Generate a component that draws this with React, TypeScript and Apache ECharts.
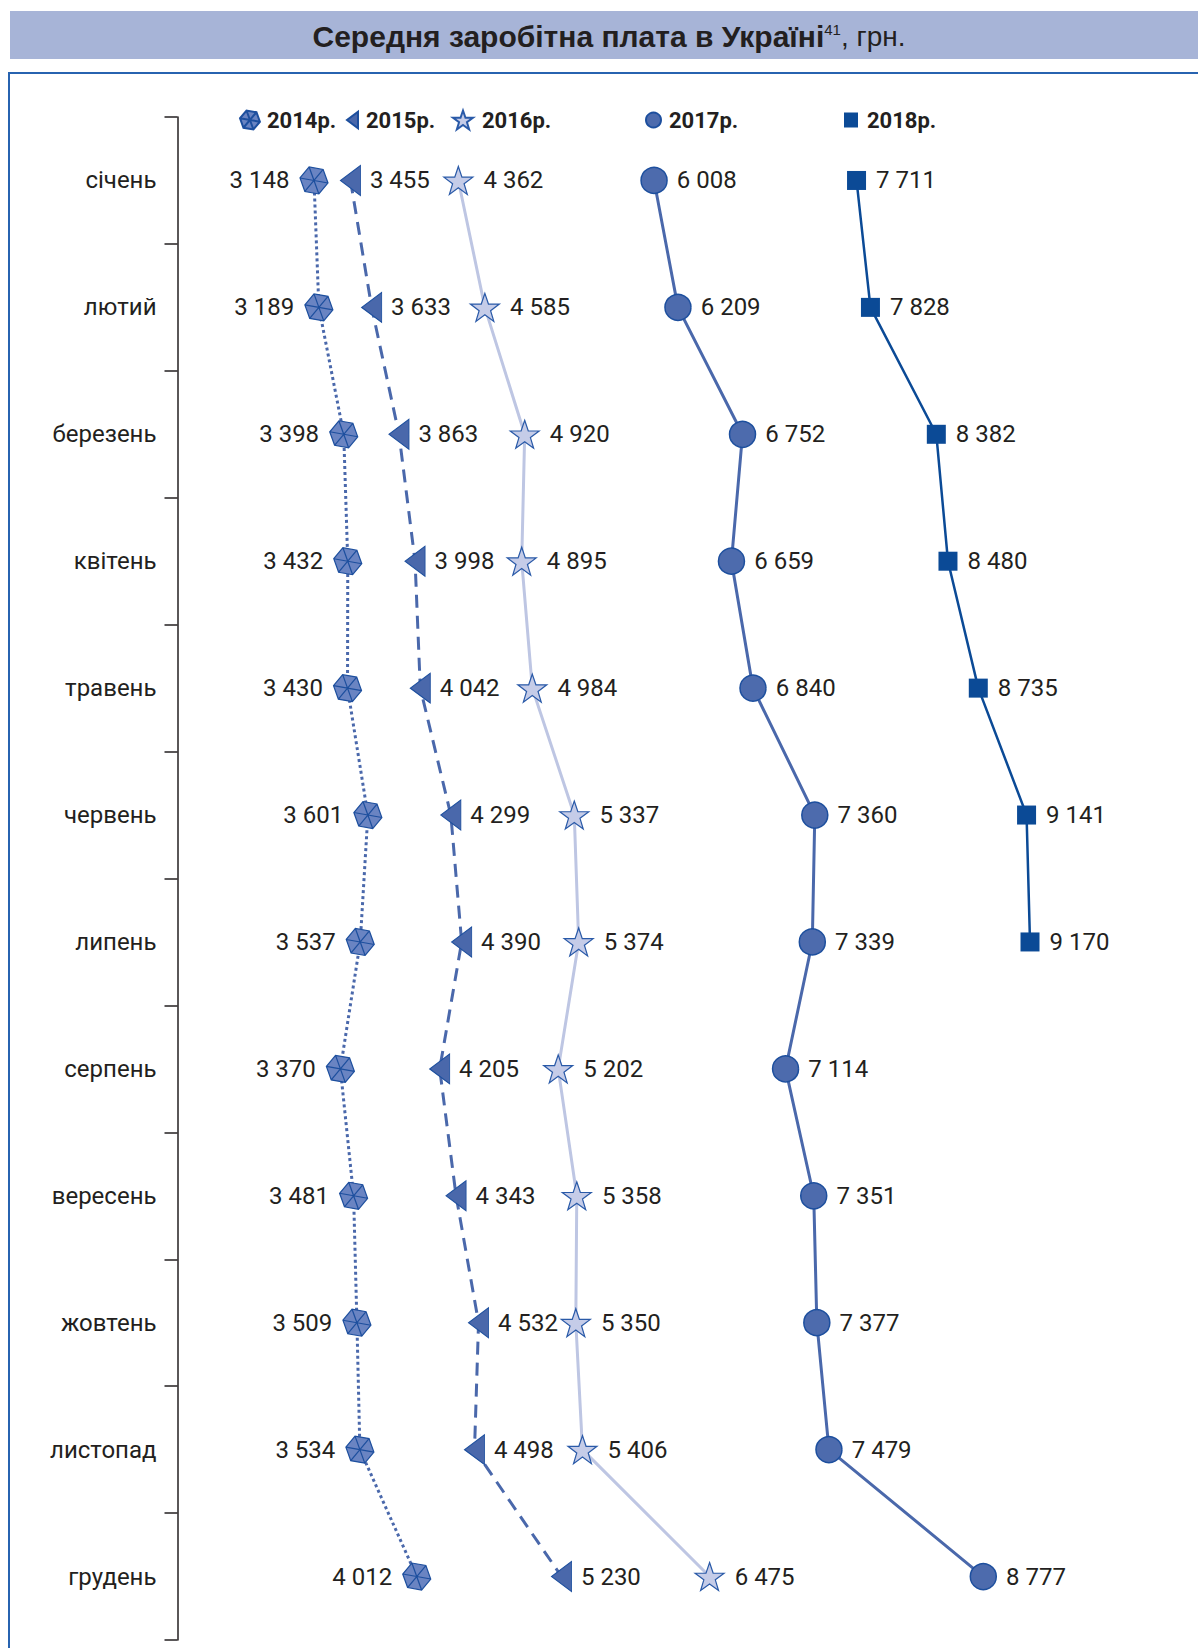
import React, { useEffect, useRef } from "react";
import * as echarts from "echarts";

const months = [
  "січень", "лютий", "березень", "квітень", "травень", "червень",
  "липень", "серпень", "вересень", "жовтень", "листопад", "грудень",
];
const years = ["2014р.", "2015р.", "2016р.", "2017р.", "2018р."];
const wage2014 = [3148, 3189, 3398, 3432, 3430, 3601, 3537, 3370, 3481, 3509, 3534, 4012];
const wage2015 = [3455, 3633, 3863, 3998, 4042, 4299, 4390, 4205, 4343, 4532, 4498, 5230];
const wage2016 = [4362, 4585, 4920, 4895, 4984, 5337, 5374, 5202, 5358, 5350, 5406, 6475];
const wage2017 = [6008, 6209, 6752, 6659, 6840, 7360, 7339, 7114, 7351, 7377, 7479, 8777];
const wage2018 = [7711, 7828, 8382, 8480, 8735, 9141, 9170, null, null, null, null, null];

const NARROW = 'Roboto, "Liberation Sans Narrow", sans-serif';
const TEXT = "#231f20";
const MID = "#4a68ab";
const DARK = "#0b4a96";
const EDGE = "#1d4f9e";

const HEX =
  "path://M21.85 13.74 L15.42 21.40 L5.57 19.66 L2.15 10.26 L8.58 2.60 L18.43 4.34 Z M21.85 13.74 L2.15 10.26 M15.42 21.40 L8.58 2.60 M5.57 19.66 L18.43 4.34";
const TRI = "path://M20 0 L20 30 L0 15 Z";
const STAR =
  "path://M50 0 L61.8 34.5 L97.6 34.5 L68.8 55.9 L79.4 90.5 L50 69.1 L20.6 90.5 L31.2 55.9 L2.4 34.5 L38.2 34.5 Z";

const fmt = (p: any) => {
  const v = Array.isArray(p.value) ? p.value[0] : p.value;
  if (v == null) return "";
  const th = Math.floor(v / 1000);
  const r = String(v % 1000).padStart(3, "0");
  return `${th} ${r}`;
};

export default function App() {
  const ref = useRef<HTMLDivElement>(null);
  useEffect(() => {
    document.body.style.margin = "0";
    const chart = echarts.init(ref.current!, null, { renderer: "svg" });
    const label = (pos: string, dist: number) => ({
      show: true,
      position: pos,
      distance: dist,
      formatter: fmt,
      fontFamily: NARROW,
      fontWeight: "normal",
      fontSize: 24,
      color: TEXT,
    });
    const mk = (
      name: string,
      data: (number | null)[],
      symbol: string,
      size: any,
      item: any,
      line: any,
      lab: any
    ) => ({
      name,
      type: "line",
      data,
      symbol,
      symbolSize: size,
      showAllSymbol: true,
      itemStyle: item,
      lineStyle: line,
      label: lab,
      z: 3,
    });
    const legend = (name: string, icon: string, left: number, w: number, h: number, gap: number) => ({
      show: true,
      data: [{ name, icon }],
      left,
      top: 108,
      padding: 0,
      itemWidth: w,
      itemHeight: h,
      itemGap: 0,
      selectedMode: false,
      textStyle: {
        fontFamily: NARROW,
        fontWeight: "bold",
        fontSize: 22,
        lineHeight: 24,
        color: TEXT,
        padding: [0, 0, 0, gap - 5],
      },
    });
    chart.setOption({
      animation: false,
      backgroundColor: "#ffffff",
      graphic: [
        {
          type: "rect",
          shape: { x: 10, y: 11, width: 1188, height: 48 },
          style: { fill: "#a7b4d7" },
        },
        {
          type: "text",
          x: 609,
          y: 36,
          style: {
            text: "{b|Середня заробітна плата в Україні}{s|41}{n|, грн.}",
            align: "center",
            verticalAlign: "middle",
            rich: {
              b: { fontFamily: '"Liberation Sans", Arial, sans-serif', fontWeight: "bold", fontSize: 30, fill: TEXT, lineHeight: 34 },
              s: { fontFamily: '"Liberation Sans", Arial, sans-serif', fontSize: 15, fill: TEXT, lineHeight: 34, padding: [0, 0, 14, 0] },
              n: { fontFamily: '"Liberation Sans", Arial, sans-serif', fontSize: 28, fill: TEXT, lineHeight: 34 },
            },
          },
        },
        {
          type: "polyline",
          shape: { points: [[9, 1648], [9, 73], [1198, 73]] },
          style: { stroke: "#2763b0", lineWidth: 2, fill: null },
        },
      ],
      legend: [
        legend(years[0], HEX, 239, 20, 19, 7),
        legend(years[1], TRI, 346, 11, 19, 8),
        legend(years[2], STAR, 452, 20, 20, 9),
        legend(years[3], "circle", 645, 15, 15, 8),
        legend(years[4], "rect", 844, 14, 15, 9),
      ],
      grid: { left: 177.5, right: 69.3, top: 117, bottom: 8, containLabel: false },
      xAxis: { type: "value", min: 2000, max: 10000, show: false },
      yAxis: {
        type: "category",
        data: months,
        inverse: true,
        boundaryGap: true,
        axisLine: { show: true, lineStyle: { color: TEXT, width: 1.5 } },
        axisTick: { show: true, length: 13, lineStyle: { color: TEXT, width: 1.5 } },
        axisLabel: { fontFamily: NARROW, fontWeight: "normal", fontSize: 24, color: TEXT, margin: 21 },
        splitLine: { show: false },
      },
      series: [
        mk(years[0], wage2014, HEX, [28, 27],
          { color: "#6a84c2", borderColor: EDGE, borderWidth: 1.2 },
          { color: MID, width: 3, type: [3, 3] },
          label("left", 10)),
        mk(years[1], wage2015, TRI, [20, 30],
          { color: MID, borderColor: EDGE, borderWidth: 1 },
          { color: MID, width: 3, type: [13, 8] },
          label("right", 9)),
        mk(years[2], wage2016, STAR, [29, 28],
          { color: "#c5cce8", borderColor: "#2a5aa8", borderWidth: 1.2 },
          { color: "#bec6e3", width: 3 },
          label("right", 10)),
        mk(years[3], wage2017, "circle", 26,
          { color: "#4d6bad", borderColor: EDGE, borderWidth: 1.5 },
          { color: MID, width: 3 },
          label("right", 9)),
        mk(years[4], wage2018, "rect", 19,
          { color: DARK, borderColor: DARK, borderWidth: 0 },
          { color: DARK, width: 2.5 },
          label("right", 10)),
      ],
    });
    return () => chart.dispose();
  }, []);
  return <div ref={ref} style={{ width: 1198, height: 1648 }} />;
}
